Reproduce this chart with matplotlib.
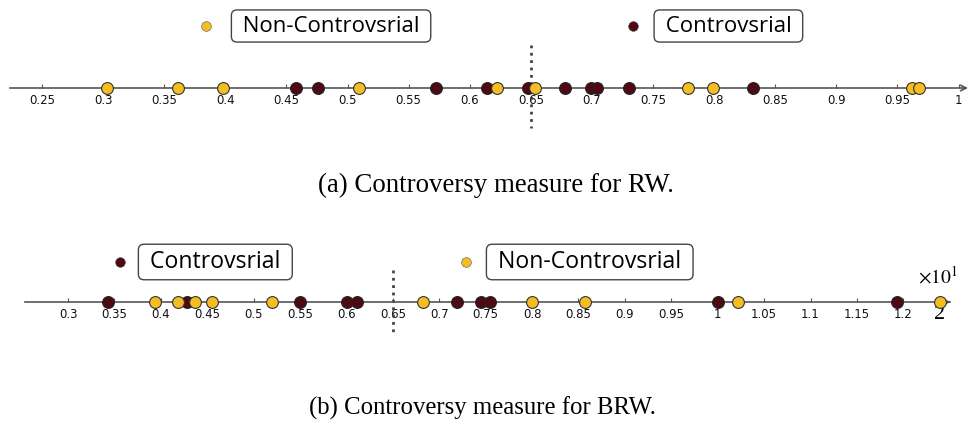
import numpy as np
import matplotlib
matplotlib.use('Agg')
import matplotlib.pyplot as plt

# values
rw_con = [0.458, 0.476, 0.572, 0.614, 0.648, 0.678, 0.699, 0.704, 0.730, 0.832]
rw_non = [0.303, 0.361, 0.398, 0.509, 0.622, 0.653, 0.779, 0.799, 0.962, 0.968]
brw_con = [0.343, 0.428, 0.550, 0.601, 0.611, 0.719, 0.745, 0.755, 1.000, 1.193]
brw_non = [0.394, 0.419, 0.437, 0.455, 0.520, 0.683, 0.800, 0.857, 1.022, 1.239]
threshold = 0.65

rw_ticks = [0.25, 0.3, 0.35, 0.4, 0.45, 0.5, 0.55, 0.6, 0.65, 0.7, 0.75, 0.8, 0.85, 0.9, 0.95, 1]
brw_ticks = [0.3, 0.35, 0.4, 0.45, 0.5, 0.55, 0.6, 0.65, 0.7, 0.75, 0.8, 0.85, 0.9, 0.95, 1,
             1.05, 1.1, 1.15, 1.2]

c_con = '#4d0a12'
c_non = '#f5bd24'
line_c = '#555555'

W, H = 972, 429
fig = plt.figure(figsize=(W / 100, H / 100), dpi=100)

def number_line(ax, con, non, ticks, xlim, line_x, y0, ylim, thr_y):
    ax.set_xlim(*xlim)
    ax.set_ylim(*ylim)
    for s in ['top', 'left', 'right']:
        ax.spines[s].set_visible(False)
    ax.spines['bottom'].set_position(('data', y0))
    ax.spines['bottom'].set_bounds(*line_x)
    ax.spines['bottom'].set_color(line_c)
    ax.spines['bottom'].set_linewidth(1.2)
    ax.set_yticks([])
    ax.set_xticks(ticks)
    ax.set_xticklabels([('%g' % t) for t in ticks])
    ax.tick_params(axis='x', direction='in', length=3, width=0.8, color=line_c,
                   labelsize=8.5, pad=4, labelcolor='#111111')
    ax.annotate('', xy=(line_x[1] + 0.004, y0), xytext=(line_x[1] - 0.004, y0),
                arrowprops=dict(arrowstyle='->', color=line_c, lw=1.2))
    ax.plot([threshold, threshold], thr_y, color='#444444', ls=':', lw=2)
    ax.plot(con, [y0] * len(con), 'o', ms=8.5, mfc=c_con, mec='#222222', mew=0.8,
            ls='none', clip_on=False, zorder=3)
    ax.plot(non, [y0] * len(non), 'o', ms=8.5, mfc=c_non, mec='#333333', mew=0.8,
            ls='none', clip_on=False, zorder=4)

def legend_item(ax, x, y, color, label, dx, size):
    ax.plot([x], [y], 'o', ms=7, mfc=color, mec='#555555', mew=0.4, clip_on=False)
    ax.text(x + dx, y, ' ' + label + ' ', fontsize=size, family='Open Sans',
            ha='left', va='center',
            bbox=dict(boxstyle='round,pad=0.25,rounding_size=0.25', fc='white',
                      ec='#444444', lw=1))

# (a) RW
ax1 = fig.add_axes([0, (H - 200) / H, 1, 200 / H])
number_line(ax1, rw_con, rw_non, rw_ticks, (0.2156, 1.011), (0.224, 1.006), 88,
            (200, 0), (45, 128))
legend_item(ax1, 0.384, 26, c_non, 'Non-Controvsrial', 0.0255, 16)
legend_item(ax1, 0.734, 26, c_con, 'Controvsrial', 0.0214, 16)

# (b) BRW
ax2 = fig.add_axes([0, 0, 1, (H - 200) / H])
number_line(ax2, brw_con, brw_non, brw_ticks, (0.2267, 1.274), (0.2537, 1.250), 302,
            (H, 200), (270, 332))
legend_item(ax2, 0.356, 262, c_con, 'Controvsrial', 0.026, 16.6)
legend_item(ax2, 0.729, 262, c_non, 'Non-Controvsrial', 0.028, 16.6)
ax2.text(1.239, 314, '2', fontsize=16, family='Liberation Serif', ha='center', va='center')
ax2.text(1.237, 276, r'$\times10^{1}$', fontsize=14, ha='center', va='center',
         math_fontfamily='stix')

fig.text(496 / W, 1 - 185 / H, '(a) Controversy measure for RW.', fontsize=19.4,
         family='Liberation Serif', ha='center', va='center')
fig.text(482 / W, 1 - 408 / H, '(b) Controversy measure for BRW.', fontsize=17.8,
         family='Liberation Serif', ha='center', va='center')

plt.savefig('out.png', dpi=100)
